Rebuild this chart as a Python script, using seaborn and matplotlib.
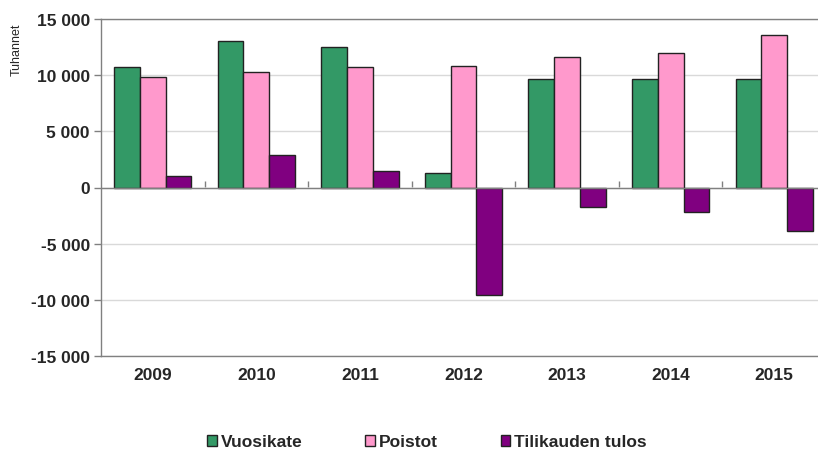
import pandas as pd
import matplotlib
matplotlib.use("Agg")
import matplotlib.pyplot as plt
import seaborn as sns
from matplotlib.ticker import FuncFormatter, FixedLocator, NullFormatter

# Values (thousands of euros)
years = ["2009", "2010", "2011", "2012", "2013", "2014", "2015"]
vuosikate = [10700, 13000, 12550, 1250, 9700, 9650, 9700]
poistot = [9800, 10300, 10700, 10800, 11600, 12000, 13600]
tulos = [1050, 2850, 1500, -9600, -1700, -2200, -3850]
series = ["Vuosikate", "Poistot", "Tilikauden tulos"]
colors = ["#339966", "#FF99CC", "#800080"]

df = pd.DataFrame({
    "Vuosi": years * 3,
    "Sarja": [series[0]] * 7 + [series[1]] * 7 + [series[2]] * 7,
    "Arvo": vuosikate + poistot + tulos,
})

sns.set_style("white")
plt.rcParams["font.family"] = ["Liberation Sans", "DejaVu Sans"]

fig = plt.figure(figsize=(8.18, 4.52), dpi=100)
ax = fig.add_axes([101 / 818, 1 - 357 / 452, 725 / 818, 337 / 452])

sns.barplot(data=df, x="Vuosi", y="Arvo", hue="Sarja", hue_order=series,
            palette=colors, width=0.745, gap=0, edgecolor="#222222",
            linewidth=1, saturation=1, ax=ax, legend=False)

ax.set_ylim(-15000, 15000)
ax.set_xlim(-0.5, 6.5)
ax.set_yticks(range(-15000, 15001, 5000))
ax.yaxis.set_major_formatter(FuncFormatter(lambda v, p: f"{int(v):,}".replace(",", " ")))
ax.yaxis.grid(True, color="#d9d9d9", linewidth=1)
ax.set_axisbelow(True)
ax.set_xlabel("")
ax.set_ylabel("")

for s in ["left", "bottom", "top"]:
    ax.spines[s].set_color("#808080")
    ax.spines[s].set_linewidth(1)
ax.spines["right"].set_visible(False)

ax.tick_params(axis="y", direction="out", length=5, width=1, color="#808080",
               left=True, labelsize=12.5, pad=3)
ax.tick_params(axis="x", length=0, labelsize=12.5, pad=8)
for lbl in ax.get_xticklabels() + ax.get_yticklabels():
    lbl.set_fontweight("bold")

# category axis at zero with boundary ticks
ax.axhline(0, color="#808080", linewidth=1, zorder=1)
sec = ax.secondary_xaxis(0.5)
sec.xaxis.set_major_locator(FixedLocator([i + 0.5 for i in range(6)]))
sec.xaxis.set_major_formatter(NullFormatter())
sec.tick_params(axis="x", direction="out", length=4, width=1, color="#808080")
sec.spines["bottom"].set_visible(False)
sec.spines["top"].set_visible(False)

fig.text(17 / 818, 1 - 50 / 452, "Tuhannet", rotation=90, fontsize=9,
         ha="center", va="center")

handles = [plt.Rectangle((0, 0), 1, 1, facecolor=c, edgecolor="#222222", linewidth=1)
           for c in colors]
fig.legend(handles, series, loc="center", bbox_to_anchor=(0.522, 1 - 443 / 452),
           ncol=3, frameon=False, handlelength=0.55, handleheight=0.55,
           handletextpad=0.25, columnspacing=3.6,
           prop={"size": 12.5, "weight": "bold"})

fig.savefig("out.png", dpi=100)
